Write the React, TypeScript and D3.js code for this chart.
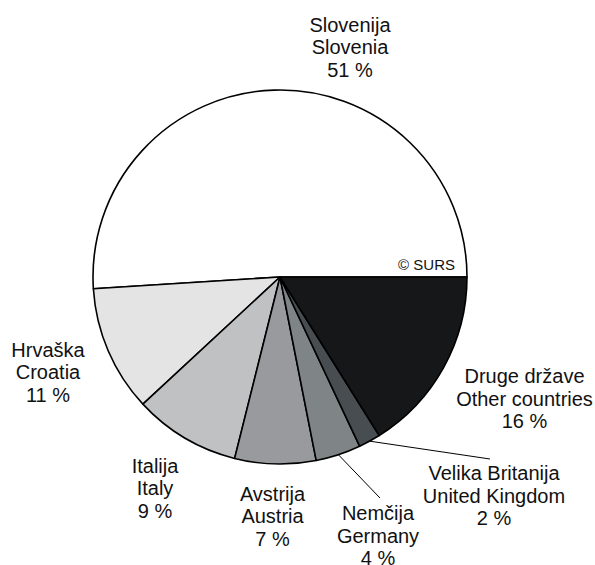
import React from 'react';
import * as d3 from 'd3';

const namesSl = ['Slovenija', 'Hrvaška', 'Italija', 'Avstrija', 'Nemčija', 'Velika Britanija', 'Druge države'];
const namesEn = ['Slovenia', 'Croatia', 'Italy', 'Austria', 'Germany', 'United Kingdom', 'Other countries'];
const shares = [51.0, 10.9, 9.2, 7.0, 3.9, 1.9, 16.1];
const shareLabels = ['51 %', '11 %', '9 %', '7 %', '4 %', '2 %', '16 %'];
const sliceColors = ['#ffffff', '#e4e4e4', '#c0c1c3', '#989a9d', '#7f8587', '#474d50', '#161719'];

// label layout (first-line baseline anchor) and leader flags
const labelPos: [number, number][] = [
  [350, 31.5],
  [48, 356.7],
  [155, 472.7],
  [272.5, 500.7],
  [378, 520],
  [494, 480],
  [524.5, 383.3],
];
const leaderEnd: ([number, number] | null)[] = [null, null, null, null, [380, 498], [490, 459], null];

const W = 595;
const H = 565;
const cx = 280;
const cy = 277;
const R = 187;
const lineH = 22.5;

export default function App() {
  const pie = d3
    .pie<number>()
    .sort(null)
    .value((d) => d)
    .startAngle(Math.PI / 2)
    .endAngle(Math.PI / 2 - 2 * Math.PI);
  const arcs = pie(shares);
  const arc = d3.arc<d3.PieArcDatum<number>>().innerRadius(0).outerRadius(R);
  const edgeArc = d3.arc<d3.PieArcDatum<number>>().innerRadius(R).outerRadius(R);

  return (
    <svg
      width={W}
      height={H}
      style={{ position: 'absolute', left: 0, top: 0, background: '#fff' }}
      fontFamily="'Liberation Sans', Arial, sans-serif"
    >
      <rect x={0} y={0} width={W} height={H} fill="#fff" />
      <g transform={`translate(${cx},${cy})`}>
        {arcs.map((a, i) => (
          <path key={i} d={arc(a) || ''} fill={sliceColors[i]} stroke="#000" strokeWidth={1.6} strokeLinejoin="round" />
        ))}
      </g>
      <text x={455} y={270} fontSize={15} textAnchor="end" fill="#111">
        © SURS
      </text>
      {arcs.map((a, i) => {
        const end = leaderEnd[i];
        if (!end) return null;
        const [sx, sy] = edgeArc.centroid(a);
        return (
          <line key={'l' + i} x1={cx + sx} y1={cy + sy} x2={end[0]} y2={end[1]} stroke="#000" strokeWidth={1} />
        );
      })}
      {arcs.map((a, i) => {
        const [x, y] = labelPos[i];
        return (
          <text key={'t' + i} x={x} y={y} fontSize={20} textAnchor="middle" fill="#111">
            <tspan x={x} y={y}>{namesSl[i]}</tspan>
            <tspan x={x} y={y + lineH}>{namesEn[i]}</tspan>
            <tspan x={x} y={y + 2 * lineH}>{shareLabels[i]}</tspan>
          </text>
        );
      })}
    </svg>
  );
}
